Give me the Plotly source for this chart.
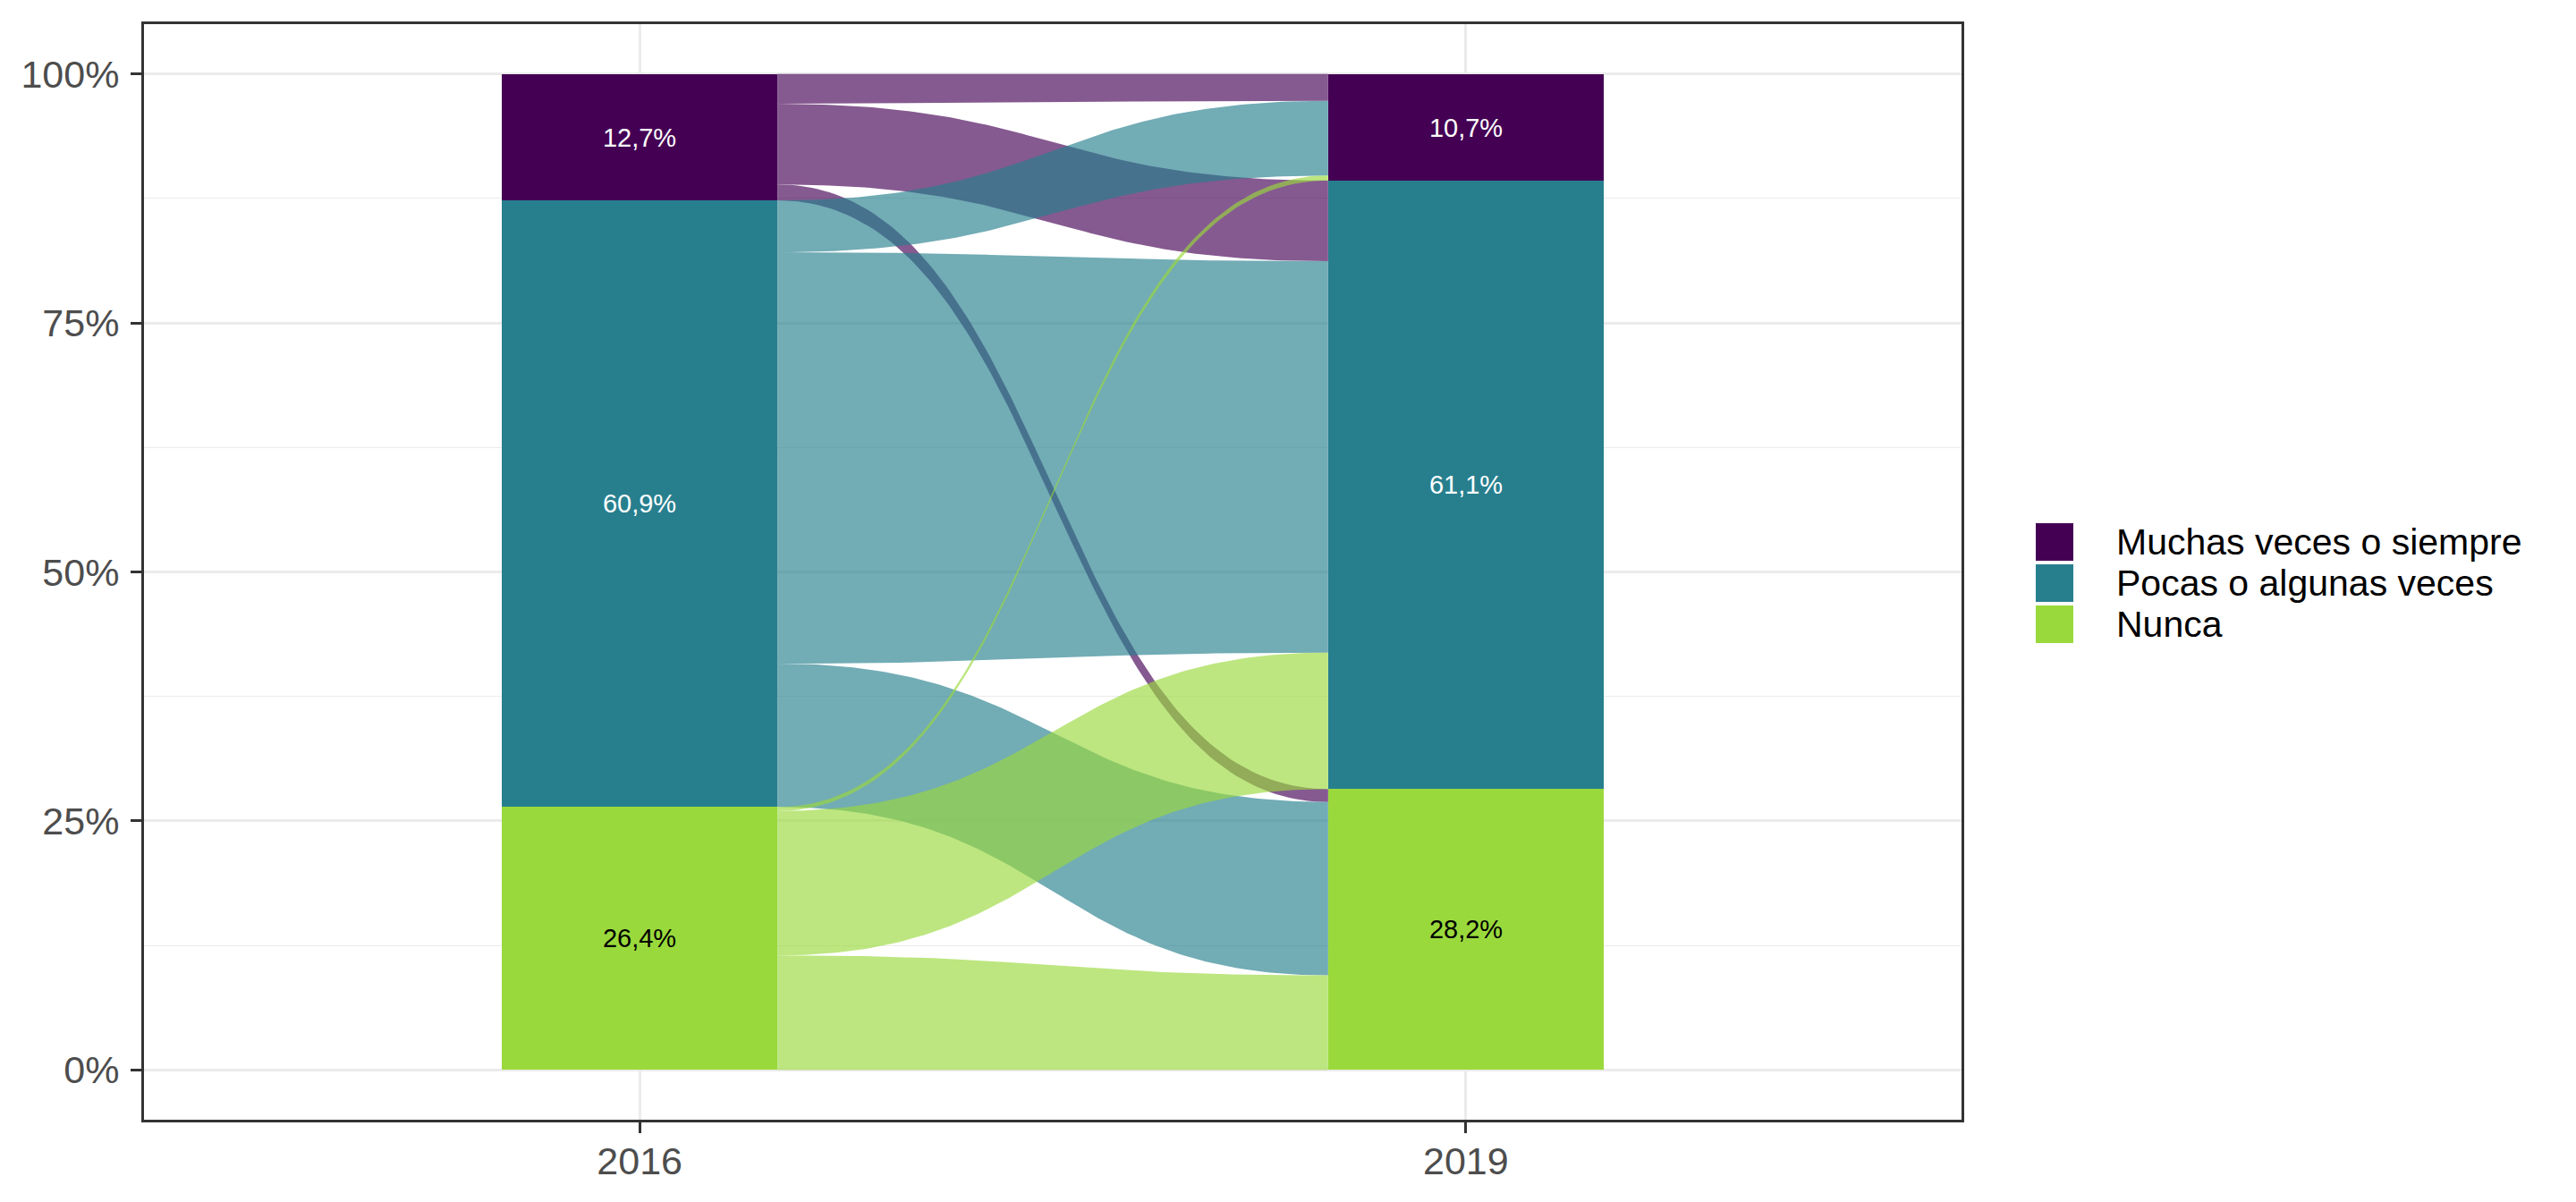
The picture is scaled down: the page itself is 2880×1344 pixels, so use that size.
import numpy as np
import plotly.graph_objects as go

# ---------------- data ----------------
categories = ["Muchas veces o siempre", "Pocas o algunas veces", "Nunca"]
years = ["2016", "2019"]
share_2016 = [12.7, 60.9, 26.4]
share_2019 = [10.7, 61.1, 28.2]

# flows: rows = category in 2016 (origin), cols = category in 2019 (destination)
# height of each flow on the 2016 axis
flow_at_2016 = [
    [3.0, 8.1, 1.6],
    [5.2, 41.3, 14.4],
    [0.4, 14.5, 11.5],
]
# height of each flow on the 2019 axis
flow_at_2019 = [
    [2.7, 8.1, 1.3],
    [7.5, 39.3, 17.4],
    [0.5, 13.7, 9.5],
]

colors = ["#440154", "#277F8E", "#9AD93C"]
label_colors = ["white", "white", "black"]
flow_alpha = 0.65


def rgba(hex_color, a):
    h = hex_color.lstrip("#")
    r, g, b = int(h[0:2], 16), int(h[2:4], 16), int(h[4:6], 16)
    return f"rgba({r},{g},{b},{a})"


def fmt(v):
    return f"{v:.1f}".replace(".", ",") + "%"


n = len(categories)
bar_width = 1 / 3
x_pos = [1, 2]

# stacked positions of flows on each axis
top_l = [[0.0] * n for _ in range(n)]
bot_l = [[0.0] * n for _ in range(n)]
cur = 100.0
for i in range(n):
    for j in range(n):
        top_l[i][j] = cur
        cur -= flow_at_2016[i][j]
        bot_l[i][j] = cur

top_r = [[0.0] * n for _ in range(n)]
bot_r = [[0.0] * n for _ in range(n)]
cur = 100.0
for j in range(n):
    for i in range(n):
        top_r[i][j] = cur
        cur -= flow_at_2019[i][j]
        bot_r[i][j] = cur

fig = go.Figure()

# ---------------- flows ----------------
x0 = x_pos[0] + bar_width / 2
x1 = x_pos[1] - bar_width / 2
t = np.linspace(0, 1, 120)
k = 0.5
xs = x0 + (x1 - x0) * (3 * (1 - t) ** 2 * t * k + 3 * (1 - t) * t ** 2 * (1 - k) + t ** 3)
ss = 3 * t ** 2 - 2 * t ** 3

for i in range(n):
    for j in range(n):
        yt = top_l[i][j] + (top_r[i][j] - top_l[i][j]) * ss
        yb = bot_l[i][j] + (bot_r[i][j] - bot_l[i][j]) * ss
        fig.add_trace(go.Scatter(
            x=np.concatenate([xs, xs[::-1]]),
            y=np.concatenate([yt, yb[::-1]]),
            mode="lines",
            fill="toself",
            fillcolor=rgba(colors[i], flow_alpha),
            line=dict(width=0, color=rgba(colors[i], 0)),
            hoverinfo="skip",
            showlegend=False,
        ))

# ---------------- strata (stacked bars) ----------------
for idx in reversed(range(n)):
    vals = [share_2016[idx], share_2019[idx]]
    fig.add_trace(go.Bar(
        x=x_pos,
        y=vals,
        width=bar_width,
        name=categories[idx],
        marker=dict(color=colors[idx], line=dict(width=0)),
        text=[fmt(v) for v in vals],
        textposition="inside",
        insidetextanchor="middle",
        textangle=0,
        constraintext="none",
        textfont=dict(size=29, color=label_colors[idx], family="Liberation Sans, Arial"),
        hoverinfo="skip",
        showlegend=False,
    ))

# ---------------- layout ----------------
W, H = 2880, 1344
L, R, T, B = 161, 687, 27, 92
plot_w = W - L - R
plot_h = H - T - B


def px_x(px):
    return (px - L) / plot_w


def px_y(py):
    return (H - B - py) / plot_h


shapes = []
annotations = []
key_left, key_right = 2276, 2318
key_h = 42
row_pitch = 46
first_top = 585
for idx, cat in enumerate(categories):
    ktop = first_top + idx * row_pitch
    shapes.append(dict(
        type="rect", xref="paper", yref="paper",
        x0=px_x(key_left), x1=px_x(key_right),
        y0=px_y(ktop + key_h), y1=px_y(ktop),
        fillcolor=colors[idx], line=dict(width=0), layer="above",
    ))
    annotations.append(dict(
        xref="paper", yref="paper",
        x=px_x(2364), y=px_y(ktop + key_h / 2),
        text=cat, showarrow=False, xanchor="left", yanchor="middle",
        font=dict(size=41, color="black", family="Liberation Sans, Arial"),
    ))

fig.update_layout(
    width=W, height=H,
    margin=dict(l=L, r=R, t=T, b=B, pad=0),
    plot_bgcolor="white", paper_bgcolor="white",
    barmode="stack",
    bargap=0,
    showlegend=False,
    font=dict(family="Liberation Sans, Arial", size=43, color="#4D4D4D"),
    shapes=shapes,
    annotations=annotations,
    xaxis=dict(
        range=[0.4, 2.6], tickmode="array", tickvals=x_pos, ticktext=years,
        showgrid=True, gridcolor="#EBEBEB", gridwidth=2.5,
        zeroline=False, showline=True, linecolor="#333333", linewidth=3, mirror=True,
        ticks="outside", ticklen=12, tickwidth=3, tickcolor="#333333",
        tickfont=dict(size=43, color="#4D4D4D"), ticklabelstandoff=-6,
        fixedrange=True,
    ),
    yaxis=dict(
        range=[-5, 105], tickmode="array", tickvals=[0, 25, 50, 75, 100],
        ticktext=["0%", "25%", "50%", "75%", "100%"],
        showgrid=True, gridcolor="#EBEBEB", gridwidth=2.5,
        minor=dict(tickmode="array", tickvals=[12.5, 37.5, 62.5, 87.5], showgrid=True,
                   gridcolor="#EBEBEB", gridwidth=1.3, ticks=""),
        zeroline=False, showline=True, linecolor="#333333", linewidth=3, mirror=True,
        ticks="outside", ticklen=12, tickwidth=3, tickcolor="#333333",
        tickfont=dict(size=43, color="#4D4D4D"), ticklabelstandoff=4,
        fixedrange=True,
    ),
)

fig.write_html("out.html")
